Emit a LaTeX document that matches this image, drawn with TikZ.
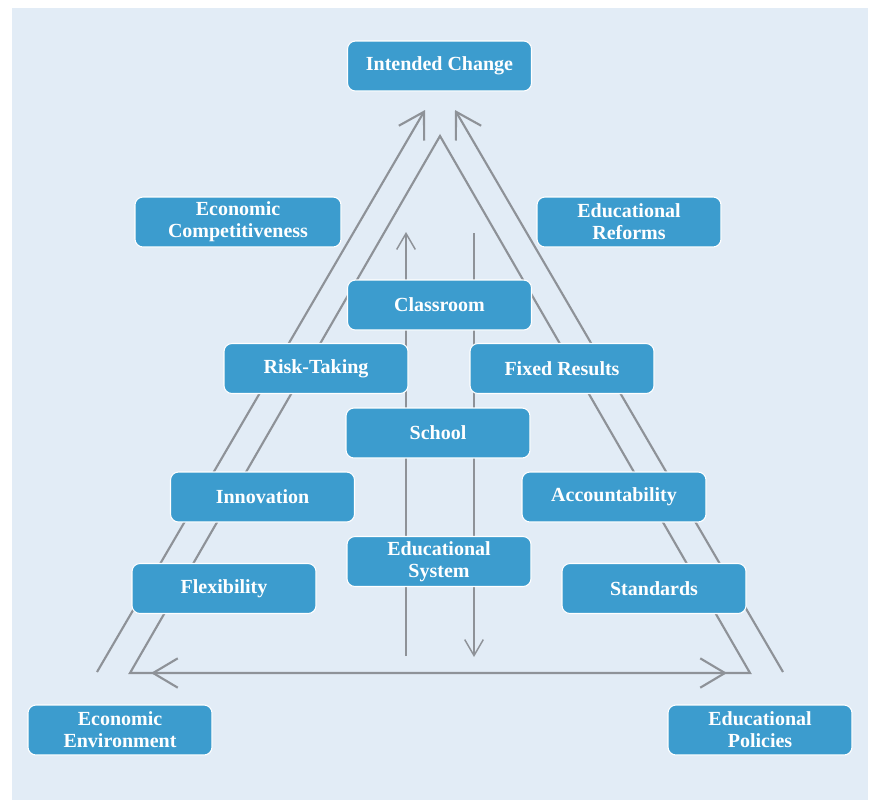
\documentclass[tikz,border=0pt]{standalone}
\usepackage{fontspec}
\setmainfont{Liberation Serif}
\usetikzlibrary{arrows.meta}
\definecolor{panelbg}{RGB}{226,236,246}
\definecolor{boxfill}{RGB}{60,156,206}
\definecolor{linegray}{RGB}{142,146,152}
\begin{document}
\begin{tikzpicture}[x=0.75pt,y=-0.75pt,
  box/.style={draw=white, line width=0.8pt, fill=boxfill, rounded corners=6pt,
    minimum width=138pt, minimum height=37.5pt, inner sep=2pt, align=center,
    text=white, font=\bfseries\fontsize{15}{16.5}\selectfont},
  frame/.style={draw=linegray, line width=1.6pt, line join=miter},
  bigtip/.style={-{Straight Barb[length=18.5pt,width=22pt]}},
  flow/.style={draw=linegray, line width=1.1pt},
  smalltip/.style={-{Straight Barb[length=12pt,width=14pt]}}]
\useasboundingbox (0,0) rectangle (873,800);
\fill[panelbg] (12,8) rectangle (868,800);

% named end points of the frame lines
\coordinate (apex) at (440,136);
\coordinate (baseL) at (130,673);
\coordinate (baseR) at (750,673);
\coordinate (tipL) at (151,673);
\coordinate (tipR) at (727,673);
\coordinate (outLfoot) at (97,672);
\coordinate (outLtop) at (425,110);
\coordinate (outRfoot) at (783,672);
\coordinate (outRtop) at (455,110);
\coordinate (upfoot) at (406,656);
\coordinate (uptop) at (406,232);
\coordinate (downtop) at (474,233);
\coordinate (downfoot) at (474,657);

% triangle and its two-way base
\draw[frame] (baseL) -- (apex) -- (baseR) -- cycle;
\draw[frame, {Straight Barb[length=18.5pt,width=22pt]}-{Straight Barb[length=18.5pt,width=22pt]}] (tipL) -- (tipR);
% outer rising lines
\draw[frame, bigtip] (outLfoot) -- (outLtop);
\draw[frame, bigtip] (outRfoot) -- (outRtop);
% inner vertical flows
\draw[flow, smalltip] (upfoot) -- (uptop);
\draw[flow, smalltip] (downtop) -- (downfoot);

% boxes
\node[box] (intended) at (439.5,66) {Intended Change};
\node[box, minimum width=154.5pt] (compet) at (238,222) {Economic\\Competitiveness};
\node[box] (reforms) at (629,222) {Educational\\Reforms};
\node[box] (classroom) at (439.5,305) {Classroom};
\node[box] (risk) at (316,368.5) {Risk-Taking};
\node[box] (fixed) at (562,368.5) {Fixed Results};
\node[box] (school) at (438,433) {School};
\node[box] (innov) at (262.5,497) {Innovation};
\node[box] (account) at (614,497) {Accountability};
\node[box] (edsys) at (439,561.5) {Educational\\System};
\node[box] (flex) at (224,588.5) {Flexibility};
\node[box] (standards) at (654,588.5) {Standards};
\node[box] (econenv) at (120,730) {Economic\\Environment};
\node[box] (edpol) at (760,730) {Educational\\Policies};
\end{tikzpicture}
\end{document}
